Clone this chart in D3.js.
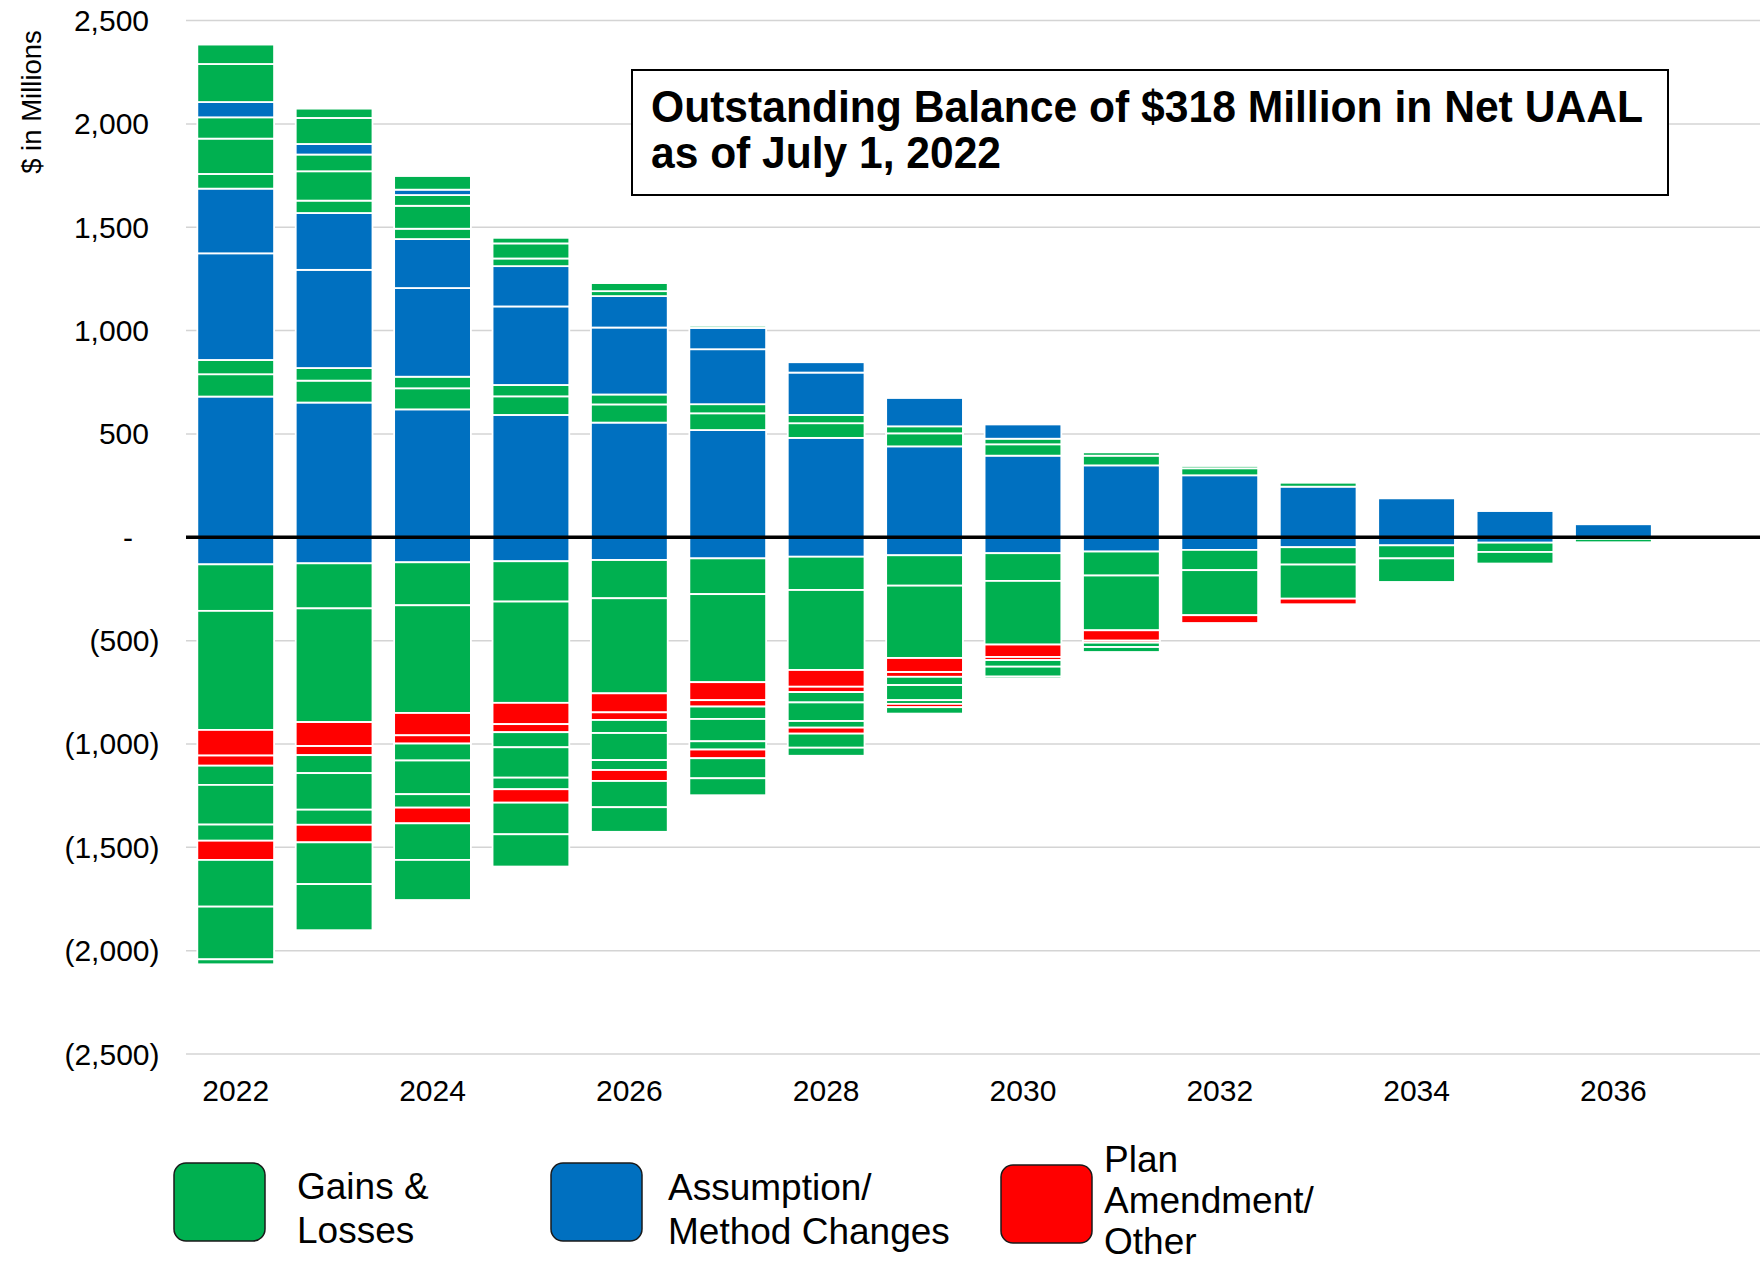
<!DOCTYPE html>
<html>
<head>
<meta charset="utf-8">
<script src="https://cdn.jsdelivr.net/npm/d3@7"></script>
<style>
  html, body { margin: 0; padding: 0; background: #fff; }
  svg { display: block; font-family: "Liberation Sans", Arial, sans-serif; }
</style>
</head>
<body>
<svg id="chart" width="1760" height="1267"></svg>
<script>
// ---------------- DATA ----------------
const years = [2022, 2023, 2024, 2025, 2026, 2027, 2028, 2029, 2030, 2031, 2032, 2033, 2034, 2035, 2036];
const slots = [...years, 2037];               // empty last slot on the category axis
const xTickLabels = ["2022", "2024", "2026", "2028", "2030", "2032", "2034", "2036"];
const yTickValues = [2500, 2000, 1500, 1000, 500, 0, -500, -1000, -1500, -2000, -2500];

// Positive amortization layers (stacked upward from zero, bottom first), $ millions
const pos1  = [681, 652, 619, 592, 555, 519, 481, 440, 395, 348, 300, 245, 189, 127, 63]; // assumption
const pos2  = [108, 106, 102,  90,  88,  81,  71,  63,  55,  47,  34,  19,   6,   0,  0]; // gains
const pos3  = [ 69,  61,  56,  55,  48,  44,  40,  34,  27,  16,  11,   0,   0,   0,  0]; // gains
const pos4  = [516, 475, 429, 380, 324, 266, 205, 137,  69,   0,   0,   0,   0,   0,  0]; // assumption
const pos5  = [313, 275, 237, 195, 152, 103,  50,   0,   0,   0,   0,   0,   0,   0,  0]; // assumption
const pos6  = [ 71,  60,  50,  37,  24,  10,   0,   0,   0,   0,   0,   0,   0,   0,  0]; // gains
const pos7  = [171, 142, 111,  73,  39,   0,   0,   0,   0,   0,   0,   0,   0,   0,  0]; // gains
const pos8  = [103,  81,  52,  27,   0,   0,   0,   0,   0,   0,   0,   0,   0,   0,  0]; // gains
const pos9  = [ 74,  51,  26,   0,   0,   0,   0,   0,   0,   0,   0,   0,   0,   0,  0]; // assumption
const pos10 = [184, 126,  66,   0,   0,   0,   0,   0,   0,   0,   0,   0,   0,   0,  0]; // gains
const pos11 = [ 94,  45,   0,   0,   0,   0,   0,   0,   0,   0,   0,   0,   0,   0,  0]; // gains

// Negative amortization layers (stacked downward from zero, top first), $ millions
const neg1  = [131, 126, 121, 116, 110, 102,  94,  87,  77,  69,  61,  48,  39,  26,  8]; // assumption
const neg2  = [225, 218, 208, 195, 185, 173, 161, 147, 134, 116,  98,  84,  63,  45, 16]; // gains
const neg3  = [576, 550, 521, 490, 460, 426, 387, 350, 308, 265, 218, 165, 115,  56,  0]; // gains
const neg4  = [124, 116, 108, 103,  92,  87,  81,  68,  60,  50,  39,  27,   6,   0,  0]; // plan amendment
const neg5  = [ 49,  44,  40,  39,  37,  31,  26,  23,  15,  10,   2,   0,   0,   0,  0]; // plan amendment
const neg6  = [ 93,  87,  82,  73,  63,  60,  50,  40,  32,  21,   4,   0,   0,   0,  0]; // gains
const neg7  = [192, 177, 163, 147, 131, 108,  90,  73,  48,  24,   0,   0,   0,   0,  0]; // gains
const neg8  = [ 78,  73,  65,  56,  48,  40,  32,  18,  10,   0,   0,   0,   0,   0,  0]; // gains
const neg9  = [ 93,  85,  76,  65,  53,  42,  29,  16,   0,   0,   0,   0,   0,   0,  0]; // plan amendment
const neg10 = [226, 202, 177, 153, 127,  97,  68,  31,   0,   0,   0,   0,   0,   0,  0]; // gains
const neg11 = [255, 223, 194, 156, 119,  82,  39,   0,   0,   0,   0,   0,   0,   0,  0]; // gains
const neg12 = [ 24,   0,   0,   0,   0,   0,   0,   0,   0,   0,   0,   0,   0,   0,  0]; // gains

const posLayers = [pos1, pos2, pos3, pos4, pos5, pos6, pos7, pos8, pos9, pos10, pos11];
const posTypes  = ["assume", "gains", "gains", "assume", "assume", "gains", "gains", "gains", "assume", "gains", "gains"];
const negLayers = [neg1, neg2, neg3, neg4, neg5, neg6, neg7, neg8, neg9, neg10, neg11, neg12];
const negTypes  = ["assume", "gains", "gains", "plan", "plan", "gains", "gains", "gains", "plan", "gains", "gains", "gains"];

const legendKeys  = ["gains", "assume", "plan"];
const legendLines = [["Gains &", "Losses"], ["Assumption/", "Method Changes"], ["Plan", "Amendment/", "Other"]];
const titleLines  = ["Outstanding Balance of $318 Million in Net UAAL", "as of July 1, 2022"];
const yAxisTitle  = "$ in Millions";

// ---------------- STYLE ----------------
const colors = { gains: "#00B050", assume: "#0070C0", plan: "#FF0000" };

// ---------------- BUILD ----------------
const svg = d3.select("#chart");

const x = d3.scaleBand().domain(slots).range([186.5, 1761]).paddingInner(0.22).paddingOuter(0.11);
const y = d3.scaleLinear().domain([-2500, 2500]).range([1054, 20.6]);

// gridlines
svg.append("g").selectAll("line")
  .data(yTickValues.filter(v => v !== 0))
  .join("line")
  .attr("x1", 186).attr("x2", 1760)
  .attr("y1", d => y(d)).attr("y2", d => y(d))
  .attr("stroke", "#d4d4d4").attr("stroke-width", 1.5);

// stacked data through d3.stack with diverging offset
const keys = [];
const typeOf = {};
posLayers.forEach((arr, i) => { keys.push("p" + i); typeOf["p" + i] = posTypes[i]; });
negLayers.forEach((arr, i) => { keys.push("n" + i); typeOf["n" + i] = negTypes[i]; });
const table = years.map((yr, j) => {
  const row = { year: yr };
  posLayers.forEach((arr, i) => row["p" + i] = arr[j]);
  negLayers.forEach((arr, i) => row["n" + i] = -arr[j]);
  return row;
});
const series = d3.stack().keys(keys).offset(d3.stackOffsetDiverging)(table);

const segs = [];
series.forEach(s => {
  s.forEach(d => {
    if (d[1] !== d[0]) segs.push({ key: s.key, year: d.data.year, y0: d[0], y1: d[1] });
  });
});

svg.append("g").selectAll("rect")
  .data(segs)
  .join("rect")
  .attr("x", d => x(d.year))
  .attr("width", x.bandwidth())
  .attr("y", d => y(Math.max(d.y0, d.y1)))
  .attr("height", d => Math.abs(y(d.y0) - y(d.y1)))
  .attr("fill", d => colors[typeOf[d.key]])
  .attr("stroke", "#ffffff")
  .attr("stroke-width", 1.8);

// zero line
svg.append("line")
  .attr("x1", 186).attr("x2", 1760)
  .attr("y1", y(0)).attr("y2", y(0))
  .attr("stroke", "#000").attr("stroke-width", 3.4);

// y tick labels (accounting format)
const fmt = d3.format(",");
svg.append("g").selectAll("text")
  .data(yTickValues)
  .join("text")
  .attr("x", d => d > 0 ? 149 : (d < 0 ? 159.5 : 133))
  .attr("y", d => y(d))
  .attr("dy", "0.35em")
  .attr("text-anchor", "end")
  .attr("font-size", 30)
  .attr("fill", "#000")
  .text(d => d > 0 ? fmt(d) : (d < 0 ? "(" + fmt(-d) + ")" : "-"));

// x tick labels
svg.append("g").selectAll("text")
  .data(xTickLabels)
  .join("text")
  .attr("x", d => x(+d) + x.bandwidth() / 2)
  .attr("y", 1101)
  .attr("text-anchor", "middle")
  .attr("font-size", 30)
  .attr("fill", "#000")
  .text(d => d);

// y axis title
svg.append("text")
  .attr("transform", "translate(41,102) rotate(-90)")
  .attr("text-anchor", "middle")
  .attr("font-size", 27.5)
  .attr("fill", "#000")
  .text(yAxisTitle);

// title box
svg.append("rect")
  .attr("x", 632).attr("y", 70).attr("width", 1036).attr("height", 125)
  .attr("fill", "#fff").attr("stroke", "#000").attr("stroke-width", 2);
const titleLens = [992, 350];
svg.append("g").selectAll("text")
  .data(titleLines)
  .join("text")
  .attr("x", 651)
  .attr("y", (d, i) => 122 + i * 46)
  .attr("font-size", 44)
  .attr("font-weight", "bold")
  .attr("fill", "#000")
  .attr("textLength", (d, i) => titleLens[i])
  .attr("lengthAdjust", "spacingAndGlyphs")
  .text(d => d);

// legend
const legX = [174, 551, 1001];
const legTextX = [297, 668, 1104];
const legFirstBaseline = [1199, 1200, 1172];
const legLineGap = [44, 44, 41];
const lg = svg.append("g");
legendKeys.forEach((k, i) => {
  lg.append("rect")
    .attr("x", legX[i]).attr("y", i === 2 ? 1165 : 1163)
    .attr("width", 91).attr("height", 78)
    .attr("rx", 12).attr("ry", 12)
    .attr("fill", colors[k]).attr("stroke", "#1a1a1a").attr("stroke-width", 1.5);
  const t = lg.append("text")
    .attr("font-size", 37).attr("fill", "#000");
  legendLines[i].forEach((line, j) => {
    t.append("tspan")
      .attr("x", legTextX[i])
      .attr("y", legFirstBaseline[i] + j * legLineGap[i])
      .text(line);
  });
});
</script>
</body>
</html>
